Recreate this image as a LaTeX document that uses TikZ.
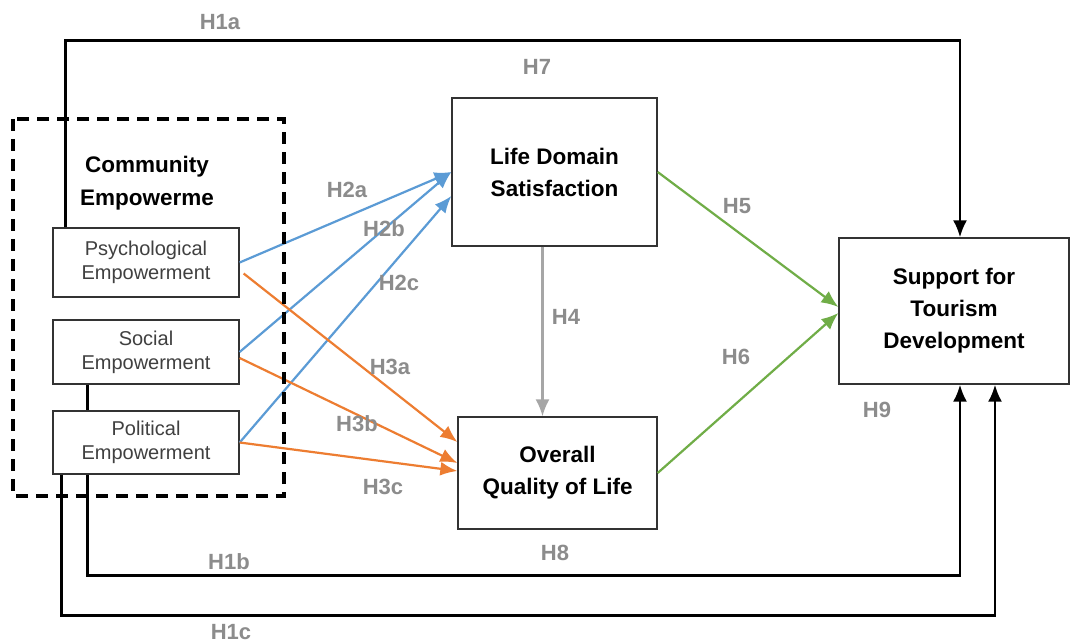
\documentclass[tikz,border=0pt]{standalone}
\usepackage{fontspec}
\setmainfont{Liberation Sans}
\usetikzlibrary{arrows.meta}

\definecolor{hgray}{RGB}{140,140,140}
\definecolor{lgray}{RGB}{166,166,166}
\definecolor{hblue}{RGB}{91,155,213}
\definecolor{horange}{RGB}{237,125,49}
\definecolor{hgreen}{RGB}{112,173,71}

\tikzset{
    mainbox/.style={draw=black!80, line width=1.3pt, fill=white, inner sep=0pt,
        align=center, font=\fontsize{22.5}{32}\selectfont\bfseries},
    subbox/.style={draw=black!80, line width=1.3pt, fill=white, inner sep=0pt,
        align=center, minimum width=186pt, text=black!75,
        font=\fontsize{20}{24}\selectfont},
    hlabel/.style={text=hgray, font=\fontsize{22}{24}\selectfont\bfseries},
    link/.style={->, line width=2.4pt},
    bluelink/.style={link, draw=hblue, line width=2.2pt},
    orangelink/.style={link, draw=horange, line width=2.2pt},
    greenlink/.style={link, draw=hgreen, line width=2.2pt},
}

\begin{document}
\begin{tikzpicture}[x=1pt, y=-1pt, >={Latex[length=17pt,width=14pt]}]
    \useasboundingbox (0,0) rectangle (1070,644);
    \fill[white] (0,0) rectangle (1070,644);

    \node[align=center, font=\fontsize{22.5}{33}\selectfont\bfseries] (community) at (147,183) {Community\\Empowerme};

    \node[subbox, minimum height=69pt] (psych) at (146,262.5) {Psychological\\Empowerment};
    \node[subbox, minimum height=64pt] (social) at (146,352) {Social\\Empowerment};
    \node[subbox, minimum height=63pt] (political) at (146,442.5) {Political\\Empowerment};

    \node[mainbox, minimum width=205pt, minimum height=148pt] (lds) at (554.5,172) {Life Domain\\Satisfaction};
    \node[mainbox, minimum width=199pt, minimum height=112pt] (oql) at (557.5,473) {Overall\\Quality of Life};
    \node[mainbox, minimum width=230pt, minimum height=146pt] (support) at (954,311) {Support for\\Tourism\\Development};

    % H1 paths
    \draw[link] ([xshift=13pt]psych.north west) -- ++(0,-187) -| ([xshift=6pt]support.north);
    \draw[link, -] ([xshift=35pt]social.south west) -- ([xshift=35pt]political.north west);
    \draw[link] ([xshift=35pt]political.south west) -- ++(0,101) -| ([xshift=6pt]support.south);
    \draw[link] ([xshift=9pt]political.south west) -- ++(0,141) -| ([xshift=41pt]support.south);

    % H2
    \draw[bluelink] (psych.east) -- (lds.west);
    \draw[bluelink] (social.east) -- (lds.west);
    \draw[bluelink] (political.east) -- ([yshift=-24pt]lds.west);

    % H3
    \draw[orangelink] ([shift={(4pt,-11pt)}]psych.east) -- ([yshift=31pt]oql.west);
    \draw[orangelink] ([yshift=-6pt]social.east) -- ([yshift=10pt]oql.west);
    \draw[orangelink] (political.east) -- ([yshift=2pt]oql.west);

    % community empowerment group
    \draw[line width=3.8pt, dash pattern=on 12pt off 8pt] (13,119) rectangle (284,496);

    % H4, H5, H6
    \draw[link, draw=lgray, line width=2.2pt] ([xshift=-12pt]lds.south) -- ([xshift=-12pt]lds.south |- oql.north);
    \draw[greenlink] (lds.east) -- ([yshift=4pt]support.west);
    \draw[greenlink] (oql.east) -- ([yshift=-2pt]support.west);

    % hypothesis labels
    \node[hlabel] (h1a) at (220,22) {H1a};
    \node[hlabel] (h1b) at (229,562) {H1b};
    \node[hlabel] (h1c) at (231,632) {H1c};
    \node[hlabel] (h2a) at (347,190) {H2a};
    \node[hlabel] (h2b) at (384,229) {H2b};
    \node[hlabel] (h2c) at (399,283) {H2c};
    \node[hlabel] (h3a) at (390,367) {H3a};
    \node[hlabel] (h3b) at (357,424) {H3b};
    \node[hlabel] (h3c) at (383,487) {H3c};
    \node[hlabel] (h4) at (566,317) {H4};
    \node[hlabel] (h5) at (737,206) {H5};
    \node[hlabel] (h6) at (736,357) {H6};
    \node[hlabel] (h7) at (537,67) {H7};
    \node[hlabel] (h8) at (555,553) {H8};
    \node[hlabel] (h9) at (877,410) {H9};
\end{tikzpicture}
\end{document}
